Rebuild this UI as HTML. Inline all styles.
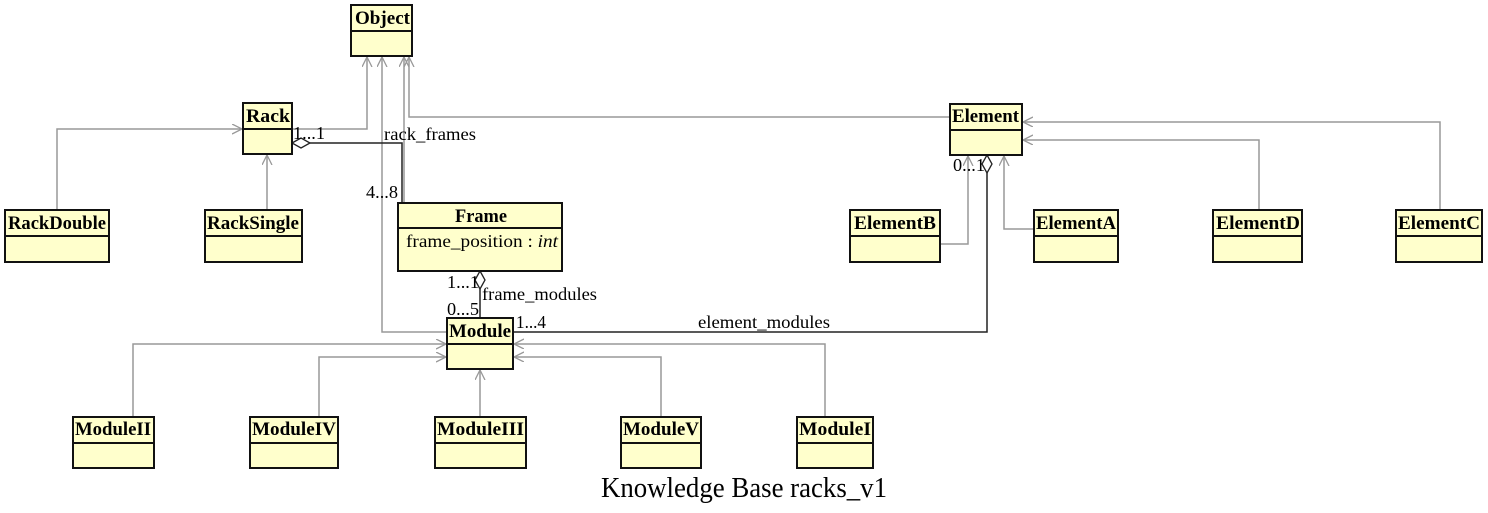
<!DOCTYPE html>
<html><head><meta charset="utf-8"><style>
html,body{margin:0;padding:0;background:#fff;}
svg{display:block;}
text{font-family:"Liberation Serif",serif;}
.b{font-weight:bold;font-size:19px;}
.l{font-size:18px;}
</style></head><body>
<svg width="1488" height="513" viewBox="0 0 1488 513" xmlns="http://www.w3.org/2000/svg">
<defs>
<marker id="a" markerWidth="12" markerHeight="12" refX="10" refY="5" orient="auto" markerUnits="userSpaceOnUse">
<path d="M0,0 L10,5 L0,10" fill="none" stroke="#999" stroke-width="1.3"/>
</marker>
</defs>
<g fill="none" stroke="#999" stroke-width="1.5">
<polyline points="292,129 367,129 367,57" marker-end="url(#a)"/>
<polyline points="447,332 382,332 382,57" marker-end="url(#a)"/>
<polyline points="404,203 404,57" marker-end="url(#a)"/>
<polyline points="950,117 409,117 409,57" marker-end="url(#a)"/>
<polyline points="57,210 57,129 242,129" marker-end="url(#a)"/>
<polyline points="267,210 267,155" marker-end="url(#a)"/>
<polyline points="940,244 968,244 968,156" marker-end="url(#a)"/>
<polyline points="1034,229 1004,229 1004,156" marker-end="url(#a)"/>
<polyline points="1259,210 1259,140 1023,140" marker-end="url(#a)"/>
<polyline points="1440,210 1440,122 1023,122" marker-end="url(#a)"/>
<polyline points="133,417 133,344 446,344" marker-end="url(#a)"/>
<polyline points="319,417 319,357 446,357" marker-end="url(#a)"/>
<polyline points="480,417 480,370" marker-end="url(#a)"/>
<polyline points="661,417 661,357 514,357" marker-end="url(#a)"/>
<polyline points="825,417 825,344 514,344" marker-end="url(#a)"/>
</g>
<g fill="none" stroke="#222" stroke-width="1.5">
<polyline points="310,143 402,143 402,203"/>
<polyline points="480,289 480,318"/>
<polyline points="513,332 987,332 987,173"/>
</g>
<g fill="#fff" stroke="#222" stroke-width="1.3">
<polygon points="292,143 301,138 310,143 301,148"/>
<polygon points="480,271 485,280 480,289 475,280"/>
<polygon points="987,155 992,164 987,173 982,164"/>
</g>
<g fill="#ffffcc" stroke="#111" stroke-width="2">
<rect x="351" y="5" width="61" height="51"/><line x1="351" y1="31" x2="412" y2="31"/>
<rect x="243" y="103" width="49" height="51"/><line x1="243" y1="129" x2="292" y2="129"/>
<rect x="5" y="210" width="104" height="52"/><line x1="5" y1="236" x2="109" y2="236"/>
<rect x="205" y="210" width="97" height="52"/><line x1="205" y1="236" x2="302" y2="236"/>
<rect x="398" y="203" width="164" height="68"/><line x1="398" y1="228" x2="562" y2="228"/>
<rect x="447" y="318" width="66" height="51"/><line x1="447" y1="344" x2="513" y2="344"/>
<rect x="950" y="104" width="72" height="51"/><line x1="950" y1="130" x2="1022" y2="130"/>
<rect x="850" y="210" width="90" height="52"/><line x1="850" y1="236" x2="940" y2="236"/>
<rect x="1034" y="210" width="84" height="52"/><line x1="1034" y1="236" x2="1118" y2="236"/>
<rect x="1213" y="210" width="89" height="52"/><line x1="1213" y1="236" x2="1302" y2="236"/>
<rect x="1396" y="210" width="86" height="52"/><line x1="1396" y1="236" x2="1482" y2="236"/>
<rect x="73" y="417" width="81" height="51"/><line x1="73" y1="443" x2="154" y2="443"/>
<rect x="250" y="417" width="88" height="51"/><line x1="250" y1="443" x2="338" y2="443"/>
<rect x="435" y="417" width="91" height="51"/><line x1="435" y1="443" x2="526" y2="443"/>
<rect x="621" y="417" width="80" height="51"/><line x1="621" y1="443" x2="701" y2="443"/>
<rect x="797" y="417" width="76" height="51"/><line x1="797" y1="443" x2="873" y2="443"/>
</g>
<g class="b" fill="#000">
<text x="355" y="24" textLength="55" lengthAdjust="spacingAndGlyphs">Object</text>
<text x="246" y="122" textLength="44" lengthAdjust="spacingAndGlyphs">Rack</text>
<text x="8" y="229" textLength="98" lengthAdjust="spacingAndGlyphs">RackDouble</text>
<text x="207" y="229" textLength="92" lengthAdjust="spacingAndGlyphs">RackSingle</text>
<text x="455" y="222" textLength="52" lengthAdjust="spacingAndGlyphs">Frame</text>
<text x="449" y="337" textLength="62" lengthAdjust="spacingAndGlyphs">Module</text>
<text x="952" y="122" textLength="67" lengthAdjust="spacingAndGlyphs">Element</text>
<text x="854" y="229" textLength="82" lengthAdjust="spacingAndGlyphs">ElementB</text>
<text x="1036" y="229" textLength="80" lengthAdjust="spacingAndGlyphs">ElementA</text>
<text x="1216" y="229" textLength="84" lengthAdjust="spacingAndGlyphs">ElementD</text>
<text x="1398" y="229" textLength="82" lengthAdjust="spacingAndGlyphs">ElementC</text>
<text x="75" y="435" textLength="76" lengthAdjust="spacingAndGlyphs">ModuleII</text>
<text x="252" y="435" textLength="84" lengthAdjust="spacingAndGlyphs">ModuleIV</text>
<text x="437" y="435" textLength="87" lengthAdjust="spacingAndGlyphs">ModuleIII</text>
<text x="623" y="435" textLength="76" lengthAdjust="spacingAndGlyphs">ModuleV</text>
<text x="799" y="435" textLength="72" lengthAdjust="spacingAndGlyphs">ModuleI</text>
</g>
<g class="l" fill="#000">
<text x="406" y="247" textLength="152" lengthAdjust="spacingAndGlyphs">frame_position :  <tspan font-style="italic">int</tspan></text>
<text x="293" y="139" textLength="32" lengthAdjust="spacingAndGlyphs">1...1</text>
<text x="384" y="140" textLength="92" lengthAdjust="spacingAndGlyphs">rack_frames</text>
<text x="366" y="198" textLength="32" lengthAdjust="spacingAndGlyphs">4...8</text>
<text x="953" y="171" textLength="32" lengthAdjust="spacingAndGlyphs">0...1</text>
<text x="447" y="288" textLength="32" lengthAdjust="spacingAndGlyphs">1...1</text>
<text x="482" y="300" textLength="115" lengthAdjust="spacingAndGlyphs">frame_modules</text>
<text x="447" y="315" textLength="32" lengthAdjust="spacingAndGlyphs">0...5</text>
<text x="516" y="328" textLength="30" lengthAdjust="spacingAndGlyphs">1...4</text>
<text x="698" y="328" textLength="132" lengthAdjust="spacingAndGlyphs">element_modules</text>
<text x="601" y="497" font-size="28" textLength="286" lengthAdjust="spacingAndGlyphs">Knowledge Base racks_v1</text>
</g>
</svg>
</body></html>
